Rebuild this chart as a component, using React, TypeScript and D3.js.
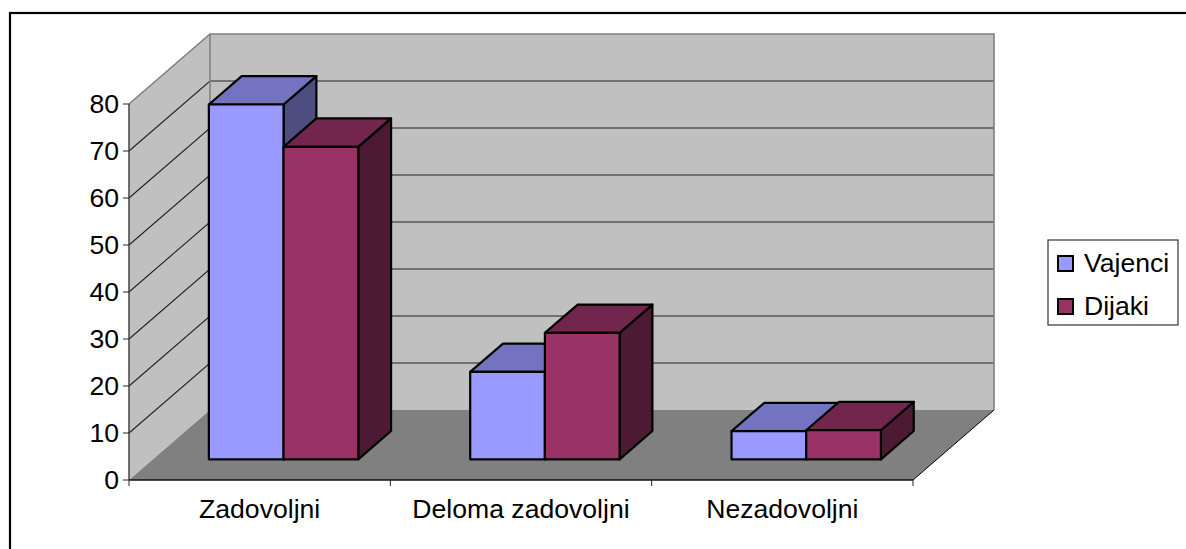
import React from "react";
import * as d3 from "d3";

const categories = ["Zadovoljni", "Deloma zadovoljni", "Nezadovoljni"];
const seriesNames = ["Vajenci", "Dijaki"];
const vajenci = [75.5, 18.6, 6.0];
const dijaki = [66.5, 26.9, 6.2];
const yTicks = [0, 10, 20, 30, 40, 50, 60, 70, 80];
const fills = ["#9999FF", "#993366"];
const tops = ["#7373BF", "#73264D"];
const sides = ["#4D4D80", "#4D1A33"];

const FONT = "'Liberation Sans', Arial, sans-serif";
const FS = 26.6;

export default function App() {
  const x0 = 129, x1 = 913, y0 = 480, y80 = 104;
  const dx = 81, dy = -70;
  const y = d3.scaleLinear().domain([0, 80]).range([y0, y80]);
  const band = d3.scaleBand<string>().domain(categories).range([x0, x1]).paddingInner(0).paddingOuter(0);
  const bw = 74.7;
  const zFront = 0.295, zBack = 0.70;
  const px = (x: number, z: number) => x + dx * z;
  const py = (yy: number, z: number) => yy + dy * z;
  const pts = (a: [number, number][]) => a.map((p) => p.join(",")).join(" ");
  const series = [vajenci, dijaki];
  const wallLine = d3.line();

  return (
    <svg width={1186} height={549} style={{ position: "absolute", left: 0, top: 0, fontFamily: FONT }}>
      <rect x={0} y={0} width={1186} height={549} fill="#fff" />
      <rect x={10} y={13} width={1300} height={600} fill="#fff" stroke="#000" strokeWidth={2.2} />

      {/* walls */}
      <polygon points={pts([[x0, y80], [x0 + dx, y80 + dy], [x0 + dx, y0 + dy], [x0, y0]])} fill="#C0C0C0" />
      <polygon points={pts([[x0 + dx, y80 + dy], [x1 + dx, y80 + dy], [x1 + dx, y0 + dy], [x0 + dx, y0 + dy]])} fill="#C0C0C0" />
      <polygon points={pts([[x0, y0], [x0 + dx, y0 + dy], [x1 + dx, y0 + dy], [x1, y0]])} fill="#808080" />

      {/* gridlines */}
      {yTicks.slice(1, -1).map((t) => (
        <path
          key={t}
          d={wallLine([[x0, y(t)], [x0 + dx, y(t) + dy], [x1 + dx, y(t) + dy]]) ?? ""}
          fill="none"
          stroke="#222"
          strokeWidth={1.1}
        />
      ))}
      <path
        d={wallLine([[x0, y(80)], [x0 + dx, y(80) + dy], [x1 + dx, y(80) + dy], [x1 + dx, y0 + dy]]) ?? ""}
        fill="none"
        stroke="#808080"
        strokeWidth={1.6}
      />
      <line x1={x0 + dx} x2={x0 + dx} y1={y(80) + dy} y2={y0 + dy} stroke="#808080" strokeWidth={1.6} />
      <line x1={x1} x2={x1 + dx} y1={y0} y2={y0 + dy} stroke="#000" strokeWidth={1} />

      {/* axes */}
      <line x1={x0} x2={x0} y1={y80} y2={y0} stroke="#444" strokeWidth={1.5} />
      <line x1={x0} x2={x1} y1={y0} y2={y0} stroke="#111" strokeWidth={1.5} />
      {yTicks.map((t) => (
        <g key={t}>
          <line x1={x0 - 6} x2={x0} y1={y(t)} y2={y(t)} stroke="#222" />
          <text x={x0 - 10} y={y(t) + 8.5} textAnchor="end" fontSize={FS} fill="#000">{t}</text>
        </g>
      ))}
      {[...categories.map((c) => band(c)!), x1].map((v, i) => (
        <line key={i} x1={v} x2={v} y1={y0} y2={y0 + 6} stroke="#222" />
      ))}
      {categories.map((c) => (
        <text key={c} x={band(c)! + band.bandwidth() / 2} y={517.5} textAnchor="middle" fontSize={FS} fill="#000">{c}</text>
      ))}

      {/* bars */}
      {categories.map((c, ci) => {
        const left = band(c)! + (band.bandwidth() - 2 * bw) / 2;
        return (
          <g key={c}>
            {series.map((vals, si) => {
              const xa = left + si * bw;
              const xb = xa + bw;
              const ytop = y(vals[ci]) - y0;
              const P = (xx: number, h: number, z: number): [number, number] => [px(xx, z), py(y0 + h, z)];
              return (
                <g key={si} stroke="#000" strokeWidth={2.2} strokeLinejoin="round">
                  <polygon points={pts([P(xb, 0, zFront), P(xb, 0, zBack), P(xb, ytop, zBack), P(xb, ytop, zFront)])} fill={sides[si]} />
                  <polygon points={pts([P(xa, ytop, zFront), P(xb, ytop, zFront), P(xb, ytop, zBack), P(xa, ytop, zBack)])} fill={tops[si]} />
                  <polygon points={pts([P(xa, 0, zFront), P(xb, 0, zFront), P(xb, ytop, zFront), P(xa, ytop, zFront)])} fill={fills[si]} />
                </g>
              );
            })}
          </g>
        );
      })}

      {/* legend */}
      <rect x={1048} y={240} width={130} height={85} fill="#fff" stroke="#333" strokeWidth={1.2} />
      {seriesNames.map((s, i) => (
        <g key={s}>
          <rect x={1058} y={256 + i * 43} width={15} height={15} fill={fills[i]} stroke="#000" strokeWidth={2} />
          <text x={1084} y={272 + i * 43} fontSize={FS} fill="#000">{s}</text>
        </g>
      ))}
    </svg>
  );
}
